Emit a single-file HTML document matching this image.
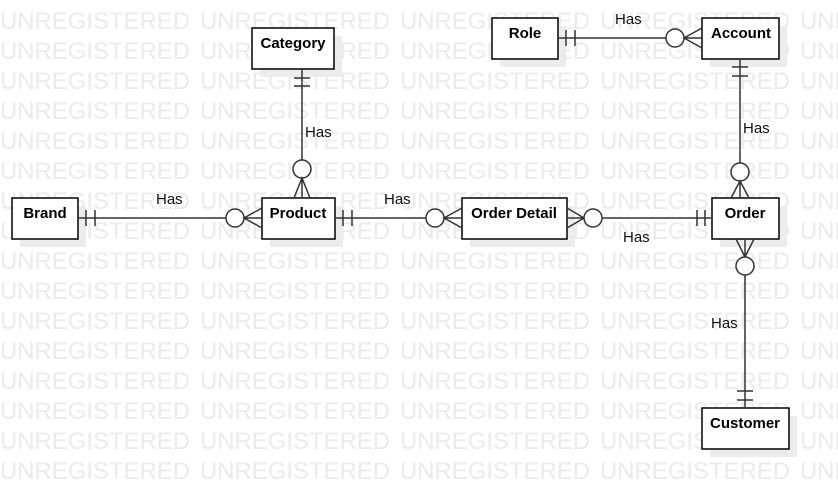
<!DOCTYPE html>
<html><head><meta charset="utf-8"><style>
html,body{margin:0;padding:0;background:#fff;}
svg{display:block;}
.wm{font-family:"Liberation Sans",sans-serif;font-size:24px;fill:#ebebeb;}
.b{font-family:"Liberation Sans",sans-serif;font-size:15px;font-weight:bold;fill:#000;text-anchor:middle;}
.h{font-family:"Liberation Sans",sans-serif;font-size:15px;fill:#111;}
</style></head><body>
<svg width="838" height="498" viewBox="0 0 838 498" xmlns="http://www.w3.org/2000/svg">
<g class="wm" id="wm"></g>
<g fill="#ececec">
<rect x="260" y="36" width="82" height="41"/>
<rect x="20" y="206" width="66" height="41"/>
<rect x="270" y="206" width="73" height="41"/>
<rect x="470" y="206" width="105" height="41"/>
<rect x="500" y="26" width="66" height="41"/>
<rect x="710" y="26" width="77" height="41"/>
<rect x="720" y="206" width="67" height="41"/>
<rect x="710" y="416" width="87" height="41"/>
</g>
<g fill="#fff" stroke="#000" stroke-width="1.5">
<rect x="252" y="28" width="82" height="41"/>
<rect x="12" y="198" width="66" height="41"/>
<rect x="262" y="198" width="73" height="41"/>
<rect x="462" y="198" width="105" height="41"/>
<rect x="492" y="18" width="66" height="41"/>
<rect x="702" y="18" width="77" height="41"/>
<rect x="712" y="198" width="67" height="41"/>
<rect x="702" y="408" width="87" height="41"/>
</g>
<text class="b" x="293" y="48">Category</text>
<text class="b" x="45" y="218">Brand</text>
<text class="b" x="298" y="218">Product</text>
<text class="b" x="514" y="218">Order Detail</text>
<text class="b" x="525" y="38">Role</text>
<text class="b" x="741" y="38">Account</text>
<text class="b" x="745" y="218">Order</text>
<text class="b" x="745" y="428">Customer</text>
<g stroke="#333" stroke-width="1.5" fill="none">
<!-- Brand-Product -->
<line x1="78" y1="218" x2="226" y2="218"/>
<line x1="86" y1="210" x2="86" y2="226"/><line x1="95" y1="210" x2="95" y2="226"/>
<circle cx="235" cy="218" r="9" fill="#fff"/>
<path d="M262 208 L244 218 L262 228 M244 218 L262 218"/>
<!-- Category-Product -->
<line x1="302" y1="69" x2="302" y2="160"/>
<line x1="294" y1="78" x2="310" y2="78"/><line x1="294" y1="86" x2="310" y2="86"/>
<circle cx="302" cy="169" r="9" fill="#fff"/>
<path d="M294 198 L302 178 L310 198 M302 178 L302 198"/>
<!-- Product-OrderDetail -->
<line x1="335" y1="218" x2="426" y2="218"/>
<line x1="343" y1="210" x2="343" y2="226"/><line x1="352" y1="210" x2="352" y2="226"/>
<circle cx="435" cy="218" r="9" fill="#fff"/>
<path d="M462 208 L444 218 L462 228 M444 218 L462 218"/>
<!-- OrderDetail-Order -->
<path d="M567 208 L584 218 L567 228 M567 218 L584 218"/>
<circle cx="593" cy="218" r="9" fill="#fff"/>
<line x1="602" y1="218" x2="712" y2="218"/>
<line x1="697" y1="210" x2="697" y2="226"/><line x1="705" y1="210" x2="705" y2="226"/>
<!-- Role-Account -->
<line x1="558" y1="38" x2="666" y2="38"/>
<line x1="566" y1="30" x2="566" y2="46"/><line x1="575" y1="30" x2="575" y2="46"/>
<circle cx="675" cy="38" r="9" fill="#fff"/>
<path d="M702 28 L684 38 L702 48 M684 38 L702 38"/>
<!-- Account-Order -->
<line x1="740" y1="59" x2="740" y2="163"/>
<line x1="732" y1="67" x2="748" y2="67"/><line x1="732" y1="76" x2="748" y2="76"/>
<circle cx="740" cy="172" r="9" fill="#fff"/>
<path d="M731 198 L740 181 L749 198 M740 181 L740 198"/>
<!-- Order-Customer -->
<path d="M736 239 L745 257 L754 239 M745 239 L745 257"/>
<circle cx="745" cy="266" r="9" fill="#fff"/>
<line x1="745" y1="275" x2="745" y2="408"/>
<line x1="737" y1="391" x2="753" y2="391"/><line x1="737" y1="400" x2="753" y2="400"/>
</g>
<text class="h" x="156" y="204">Has</text>
<text class="h" x="305" y="137">Has</text>
<text class="h" x="384" y="204">Has</text>
<text class="h" x="623" y="242">Has</text>
<text class="h" x="615" y="24">Has</text>
<text class="h" x="743" y="133">Has</text>
<text class="h" x="711" y="328">Has</text>
</svg>
<script>
var g=document.getElementById('wm'),s='';
for(var r=0;r<16;r++){var y=29+r*30;for(var c=0;c<5;c++){s+='<text x="'+(c*200)+'" y="'+y+'" textLength="190" lengthAdjust="spacingAndGlyphs">UNREGISTERED</text>';}}
g.innerHTML=s;
</script>
</body></html>
